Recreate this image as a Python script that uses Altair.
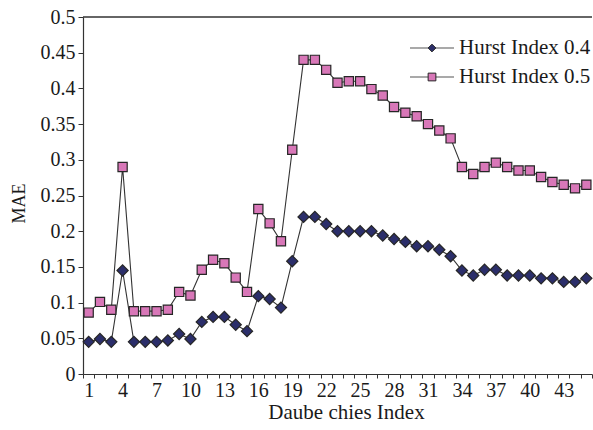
import altair as alt
import pandas as pd

# Daubechies wavelet index on the x axis
index = list(range(1, 46))

# Mean absolute error for each wavelet, per Hurst index
hurst_04 = [0.045, 0.049, 0.045, 0.145, 0.045, 0.045, 0.045, 0.047, 0.056, 0.049,
            0.073, 0.080, 0.080, 0.069, 0.060, 0.109, 0.105, 0.093, 0.158, 0.220,
            0.220, 0.210, 0.200, 0.200, 0.200, 0.200, 0.194, 0.189, 0.185, 0.179,
            0.179, 0.174, 0.165, 0.145, 0.138, 0.146, 0.146, 0.138, 0.138, 0.138,
            0.134, 0.134, 0.129, 0.129, 0.134]
hurst_05 = [0.086, 0.101, 0.090, 0.290, 0.088, 0.088, 0.088, 0.090, 0.115, 0.110,
            0.146, 0.160, 0.155, 0.135, 0.115, 0.231, 0.211, 0.186, 0.314, 0.440,
            0.440, 0.426, 0.408, 0.410, 0.410, 0.399, 0.390, 0.374, 0.366, 0.361,
            0.350, 0.341, 0.330, 0.290, 0.280, 0.290, 0.296, 0.290, 0.285, 0.285,
            0.276, 0.269, 0.265, 0.260, 0.265]

series_names = ["Hurst Index 0.4", "Hurst Index 0.5"]
fill_colors = ["#2b2e6a", "#d877b8"]
marker_shapes = ["diamond", "square"]
y_ticks = [0, 0.05, 0.1, 0.15, 0.2, 0.25, 0.3, 0.35, 0.4, 0.45, 0.5]

FONT = "Liberation Serif"

df = pd.DataFrame({
    "idx": index * 2,
    "mae": hurst_04 + hurst_05,
    "series": [series_names[0]] * len(index) + [series_names[1]] * len(index),
})

x_enc = alt.X(
    "idx:O",
    scale=alt.Scale(type="band", paddingInner=0, paddingOuter=0),
    axis=alt.Axis(
        title="Daube chies Index",
        labelAngle=0,
        tickBand="extent",
        tickSize=4,
        labelPadding=2,
        labelExpr="(datum.value - 1) % 3 == 0 ? datum.label : ''",
        labelFontSize=20,
        labelOverlap=False,
        titleFontSize=21,
        titlePadding=1,
        titleX=263,
    ),
)

y_scale = alt.Scale(domain=[0, 0.5], nice=False, zero=True)
y_axis = alt.Axis(
    title="MAE",
    values=y_ticks,
    tickCount=11,
    labelExpr="format(datum.value, '.2~f')",
    grid=False,
    tickSize=5,
    labelPadding=3,
    labelFontSize=20,
    labelOverlap=False,
    titleFontSize=18,
    titleAngle=270,
    titleAlign="center",
    titleBaseline="middle",
    titleX=-64,
    titleY=186,
)
y_enc = alt.Y("mae:Q", scale=y_scale, axis=y_axis)

shape_scale = alt.Scale(domain=series_names, range=marker_shapes)
fill_scale = alt.Scale(domain=series_names, range=fill_colors)

base = alt.Chart(df)

lines = base.mark_line(color="#333333", strokeWidth=1.1).encode(
    x=x_enc, y=y_enc, detail="series:N"
)

points = base.mark_point(filled=True, opacity=1, stroke="#262626", strokeWidth=1.2).encode(
    x=x_enc,
    y=y_enc,
    shape=alt.Shape("series:N", scale=shape_scale, legend=None),
    fill=alt.Fill("series:N", scale=fill_scale, legend=None),
    size=alt.Size("series:N", scale=alt.Scale(domain=series_names, range=[125, 85]), legend=None),
)

top_border = alt.Chart(pd.DataFrame({"mae": [0.5]})).mark_rule(
    color="#333333", strokeWidth=1.6
).encode(y=y_enc)

plot = alt.layer(lines, points, top_border)

# Legend drawn in the upper right of the plot area
leg_df = pd.DataFrame({"series": series_names})
leg_y = alt.Y("series:N", scale=alt.Scale(type="point", domain=series_names, range=[31, 60], padding=0), axis=None)

leg_line = alt.Chart(leg_df).mark_rule(color="#555555", strokeWidth=1.2).encode(
    x=alt.value(327), x2=alt.value(371), y=leg_y
)
leg_mark = alt.Chart(leg_df).mark_point(filled=True, opacity=1, stroke="#262626", strokeWidth=1).encode(
    x=alt.value(349),
    y=leg_y,
    shape=alt.Shape("series:N", scale=shape_scale, legend=None),
    fill=alt.Fill("series:N", scale=fill_scale, legend=None),
    size=alt.value(60),
)
leg_text = alt.Chart(leg_df).mark_text(
    align="left", baseline="middle", font=FONT, fontSize=21, color="#1a1a1a"
).encode(x=alt.value(376), y=leg_y, text="series:N")

legend = alt.layer(leg_line, leg_mark, leg_text)

chart = (
    alt.layer(plot, legend)
    .resolve_scale(y="independent")
    .properties(
        width=509,
        height=357,
        autosize=alt.AutoSizeParams(type="none"),
        padding={"left": 83, "top": 17, "right": 1, "bottom": 56},
        background="white",
    )
    .configure_view(stroke=None)
    .configure_axis(
        labelFont=FONT,
        titleFont=FONT,
        titleFontWeight="normal",
        labelColor="#1a1a1a",
        titleColor="#1a1a1a",
        domainColor="#333333",
        tickColor="#333333",
        domainWidth=1.2,
        tickWidth=1,
    )
)

chart.save("out.html", embed_options={"renderer": "svg", "actions": False})
